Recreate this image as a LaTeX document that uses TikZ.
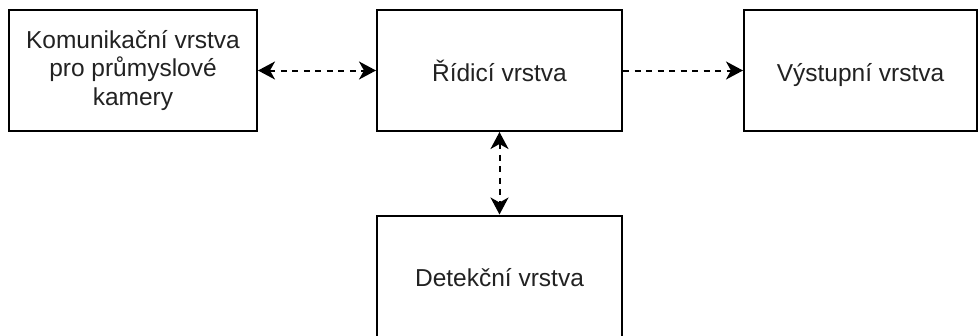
\documentclass[tikz,border=0pt]{standalone}
\usepackage{fontspec}
\setmainfont{Liberation Sans}
\usetikzlibrary{arrows.meta}
\definecolor{txt}{HTML}{222222}
\begin{document}
\begin{tikzpicture}[x=1pt,y=-1pt,
  layer/.style={draw=black,line width=2pt,rectangle,fill=white,
    minimum width=245pt,minimum height=121pt,inner sep=4pt,
    text=txt,align=center,font=\fontsize{24.5}{28.5}\selectfont},
  oneline/.style={text height=21pt,text depth=0pt},
  link/.style={line width=2pt,dash pattern=on 6pt off 5.5pt,
    >={Stealth[length=17pt,width=18pt,inset=5pt]}}]
  \clip (0,0) rectangle (978,335);
  \fill[white] (0,0) rectangle (978,335);

  % the four layers of the system
  \node[layer,minimum width=248pt] (kom) at (133,70.5)
    {Komunikační vrstva\\pro průmyslové\\kamery};
  \node[layer,oneline] (rid) at (499.5,70.5) {Řídicí vrstva};
  \node[layer,oneline,minimum width=233pt] (vys) at (860.5,70.5) {Výstupní vrstva};
  \node[layer,oneline] (det) at (499.5,276) {Detekční vrstva};

  % data flow between the layers
  \draw[link,<->] (kom.east) -- (rid.west);
  \draw[link,->] (rid.east) -- (vys.west);
  \draw[link,<->] (rid.south) -- (det.north);
\end{tikzpicture}
\end{document}
